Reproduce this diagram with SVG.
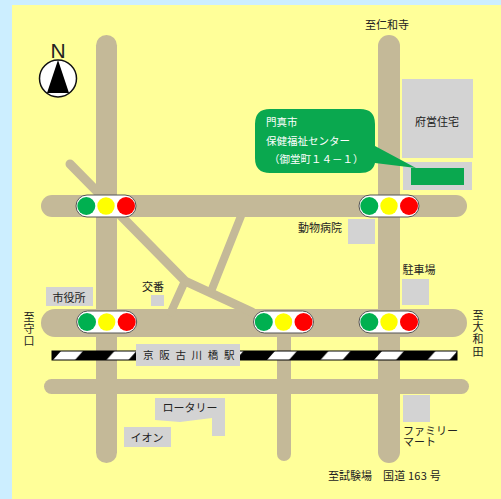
<svg xmlns="http://www.w3.org/2000/svg" width="501" height="499" viewBox="0 0 501 499">
<style>
text{font-family:"Noto Sans CJK JP","Noto Sans",sans-serif;font-size:11px;fill:#222}
.m{text-anchor:middle}
.v{writing-mode:vertical-rl;letter-spacing:1.300px}
.r{fill:#c4b998}
.d{fill:none;stroke:#c4b998;stroke-linecap:round}
.g{fill:#d3d3d3}
.w{fill:#fff}
.b{fill:#000}
.tl{fill:#fff;stroke:#555;stroke-width:1}
</style>
<defs>
<g id="signal">
<rect class="tl" x="0" y="0" width="60" height="22" rx="11"/>
<circle cx="10.300" cy="11" r="9" fill="#00b050"/>
<circle cx="30" cy="11" r="8.700" fill="#ffff00"/>
<circle cx="50" cy="11" r="9" fill="#ff0000"/>
</g>
<pattern id="rail" x="52" y="351" width="53.500" height="9" patternUnits="userSpaceOnUse">
<rect width="53.500" height="9" fill="#000"/>
<polygon class="w" points="1,9 9,0 31,0 23,9"/>
</pattern>
</defs>
<rect width="501" height="499" fill="#cceeff"/>
<rect x="12" y="5" width="489" height="494" fill="#ffff99"/>
<g id="roads">
<rect class="r" x="96" y="35" width="21" height="428" rx="10.500"/>
<rect class="r" x="378" y="35" width="22" height="428" rx="11"/>
<rect class="r" x="277" y="320" width="14" height="141" rx="7"/>
<rect class="r" x="41" y="195" width="426" height="22" rx="11"/>
<rect class="r" x="41" y="309" width="426" height="28" rx="14"/>
<rect class="r" x="44" y="379" width="425" height="15" rx="7.500"/>
<path class="d" stroke-width="9" d="M70 164 L185 281 L252 312"/>
<path class="d" stroke-width="8" d="M185 281 L171 312"/>
<path class="d" stroke-width="8" d="M241 216 L212 289"/>
</g>
<g id="railway">
<rect x="52" y="351" width="405" height="9" fill="url(#rail)" stroke="#000" stroke-width="1"/>
</g>
<g id="compass">
<circle cx="58" cy="78.500" r="18.500" fill="#fff" stroke="#111" stroke-width="1.500"/>
<polygon class="b" points="58,60 69,93 47,93"/>
<text x="58" y="58" class="m" style="font-size:21px;font-family:'Liberation Sans',sans-serif">N</text>
</g>
<g id="signal-1"><use href="#signal" x="76" y="195"/></g>
<g id="signal-2"><use href="#signal" x="359" y="195"/></g>
<g id="signal-3"><use href="#signal" x="76.700" y="311"/></g>
<g id="signal-4"><use href="#signal" x="253.500" y="311"/></g>
<g id="signal-5"><use href="#signal" x="359" y="311"/></g>
<g id="label-ninnaji"><text x="387" y="29" class="m">至仁和寺</text></g>
<g id="fuei"><rect class="g" x="402" y="79" width="71" height="79"/><text x="437" y="126" class="m">府営住宅</text></g>
<g id="center">
<rect class="g" x="403" y="162" width="69" height="28"/>
<path fill="#0aa84f" d="M270 109 H360 Q375 109 375 124 V146 L416 168 H411 V185 H464 V168 H416 L375 163 Q373 173 360 173 H270 Q255 173 255 158 V124 Q255 109 270 109 Z"/>
<text x="266" y="126" style="fill:#fff;font-size:10.500px">門真市</text>
<text x="266" y="145" style="fill:#fff;font-size:10.500px">保健福祉センター</text>
<text x="269" y="163" style="fill:#fff;font-size:10.500px">（御堂町１４－１）</text>
</g>
<g id="hospital"><rect class="g" x="348" y="219" width="27" height="25"/><text x="320" y="232" class="m">動物病院</text></g>
<g id="parking"><rect class="g" x="402" y="279" width="27" height="26"/><text x="419" y="274" class="m">駐車場</text></g>
<g id="cityhall"><rect class="g" x="46" y="287" width="47" height="19"/><text x="69" y="302" class="m">市役所</text></g>
<g id="koban"><rect class="g" x="151" y="295" width="13" height="11"/><text x="153" y="291" class="m">交番</text></g>
<g id="moriguchi"><text class="v" x="29" y="311">至守口</text></g>
<g id="owada"><text class="v" x="478" y="309">至大和田</text></g>
<g id="station"><rect class="g" x="136" y="344" width="104" height="22"/><text x="143" y="359" style="letter-spacing:5.700px;font-size:10.500px">京阪古川橋駅</text></g>
<g id="rotary"><path class="g" d="M155 398 H225 V436 H212 V418 L180 422 L155 420 Z"/><text x="190" y="412" class="m">ロータリー</text></g>
<g id="aeon"><rect class="g" x="124" y="427" width="47" height="20"/><text x="147" y="442" class="m">イオン</text></g>
<g id="familymart"><rect class="g" x="403" y="395" width="27" height="27"/><text x="403" y="435">ファミリー</text><text x="403" y="446">マート</text></g>
<g id="label-route"><text x="328" y="480">至試験場</text><text x="383" y="480" style="letter-spacing:.2px">国道 163 号</text></g>
</svg>
